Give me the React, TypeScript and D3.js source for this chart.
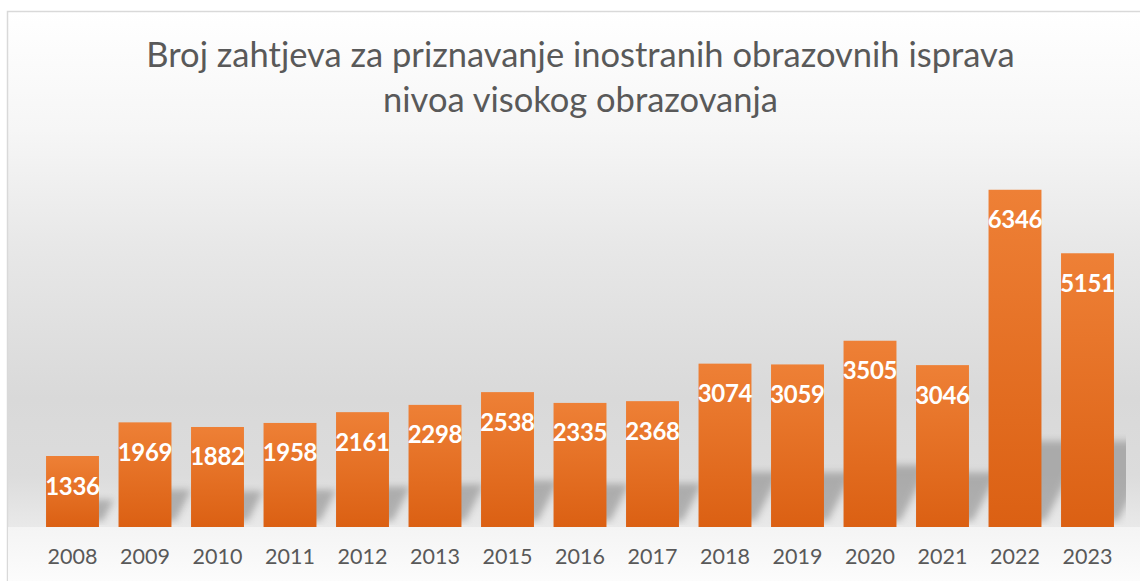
import React from "react";
import * as d3 from "d3";

const years = ["2008","2009","2010","2011","2012","2013","2015","2016","2017","2018","2019","2020","2021","2022","2023"];
const values = [1336,1969,1882,1958,2161,2298,2538,2335,2368,3074,3059,3505,3046,6346,5151];
const titleLines = ["Broj zahtjeva za priznavanje inostranih obrazovnih isprava", "nivoa visokog obrazovanja"];

const W = 1140, H = 581;
const plot = { left: 36.25, right: 1123.75, top: 155, bottom: 527 };

export default function App() {
  const x = d3.scaleBand<string>().domain(years).range([plot.left, plot.right]).paddingInner(0.27).paddingOuter(0.135);
  const y = d3.scaleLinear().domain([0, 7000]).range([plot.bottom, plot.top]);
  const bw = x.bandwidth();
  const font = "Lato, 'Open Sans', sans-serif";

  return (
    <svg width={W} height={H} style={{ position: "absolute", left: 0, top: 0 }} fontFamily={font}>
      <defs>
        <linearGradient id="bg" x1="0" y1="11" x2="0" y2="527" gradientUnits="userSpaceOnUse">
          <stop offset="0" stopColor="#ffffff" />
          <stop offset="0.23" stopColor="#f6f6f6" />
          <stop offset="0.45" stopColor="#e8e8e8" />
          <stop offset="0.75" stopColor="#d9d9d9" />
          <stop offset="0.9" stopColor="#dcdcdc" />
          <stop offset="1" stopColor="#e9e9e9" />
        </linearGradient>
        <linearGradient id="floor" x1="0" y1="0" x2="0" y2="1">
          <stop offset="0" stopColor="#f4f4f4" />
          <stop offset="1" stopColor="#fcfcfc" />
        </linearGradient>
        <linearGradient id="bar" x1="0" y1="0" x2="0" y2="1">
          <stop offset="0" stopColor="#ee8036" />
          <stop offset="1" stopColor="#db6013" />
        </linearGradient>
        <filter id="blur" x="-50%" y="-50%" width="200%" height="200%">
          <feGaussianBlur stdDeviation="3.5" />
        </filter>
        <clipPath id="plotClip">
          <rect x={plot.left} y={plot.top - 40} width={1126 - plot.left} height={plot.bottom - plot.top + 38} />
        </clipPath>
      </defs>

      <rect x={7.5} y={11.5} width={1160} height={600} fill="url(#bg)" stroke="#d9d9d9" strokeWidth={1.5} />
      <rect x={8} y={plot.bottom} width={1160} height={H - plot.bottom} fill="url(#floor)" />

      <g fontSize={34.5} fill="#595959" textAnchor="middle">
        {titleLines.map((t, i) => (
          <text key={i} x={580.5} y={67 + i * 45}>{t}</text>
        ))}
      </g>

      <g clipPath="url(#plotClip)">
        {years.map((yr, i) => {
          const x0 = x(yr)!;
          const h = plot.bottom - y(values[i]);
          const sh = Math.min(h * 0.3, 80);
          const dx = sh * 0.5;
          const b = plot.bottom - 6;
          const pts = [
            [x0 + 4, b],
            [x0 + bw + 4, b],
            [x0 + bw + 4 + dx, b - sh],
            [x0 + 4 + dx, b - sh],
          ];
          return (
            <polygon key={yr} points={pts.map(p => p.join(",")).join(" ")} fill="#7a7a7a" opacity={0.5} filter="url(#blur)" />
          );
        })}
      </g>

      {years.map((yr, i) => (
        <rect key={yr} x={x(yr)} y={y(values[i])} width={bw} height={plot.bottom - y(values[i])} fill="url(#bar)" />
      ))}

      <g fontSize={24} fontWeight="bold" fill="#ffffff" textAnchor="middle" letterSpacing={-0.3}>
        {years.map((yr, i) => (
          <text key={yr} x={x(yr)! + bw / 2} y={y(values[i]) + 38.5}>{values[i]}</text>
        ))}
      </g>

      <g fontSize={21.5} fill="#595959" textAnchor="middle">
        {years.map((yr) => (
          <text key={yr} x={x(yr)! + bw / 2} y={564}>{yr}</text>
        ))}
      </g>
    </svg>
  );
}
